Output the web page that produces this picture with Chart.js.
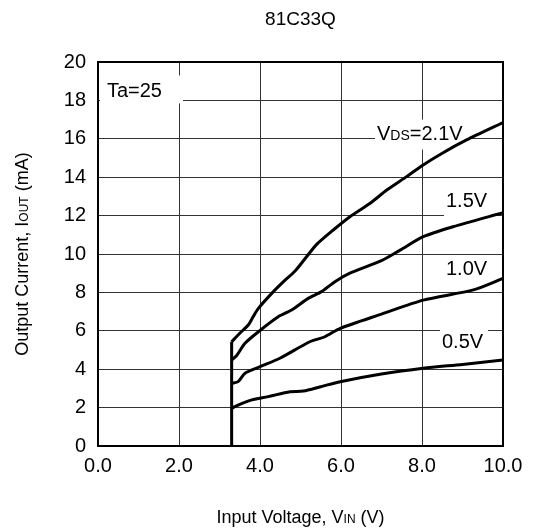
<!DOCTYPE html>
<html>
<head>
<meta charset="utf-8">
<script src="https://cdn.jsdelivr.net/npm/chart.js@4/dist/chart.umd.min.js"></script>
<style>
    html, body { margin: 0; padding: 0; background: #fff; }
    canvas { display: block; }
</style>
</head>
<body>
<canvas id="grafico" width="534" height="532"></canvas>
<script>
// curvas (Vin en V, Iout en mA)
const vin21 = [3.3, 3.5, 3.71, 3.83, 3.96, 4.29, 4.58, 4.86, 5.11, 5.4, 5.81, 6.22, 6.72, 7.13, 7.62, 8.0, 8.5, 9.1, 10.0];
const iout21 = [5.43, 5.87, 6.3, 6.73, 7.17, 7.95, 8.56, 9.1, 9.75, 10.5, 11.25, 11.94, 12.64, 13.33, 14.03, 14.6, 15.25, 15.94, 16.85];

const vin15 = [3.3, 3.42, 3.63, 3.96, 4.45, 4.78, 5.19, 5.52, 5.85, 6.22, 7.0, 7.46, 8.03, 8.77, 10.0];
const iout15 = [4.48, 4.7, 5.35, 5.95, 6.73, 7.08, 7.69, 8.04, 8.56, 9.0, 9.65, 10.2, 10.9, 11.42, 12.15];

const vin10 = [3.3, 3.46, 3.63, 4.0, 4.49, 5.23, 5.6, 5.98, 7.0, 8.03, 9.27, 10.0];
const iout10 = [3.26, 3.35, 3.79, 4.13, 4.57, 5.43, 5.69, 6.13, 6.87, 7.6, 8.13, 8.73];

const vin05 = [3.3, 3.5, 3.8, 4.2, 4.74, 5.07, 5.5, 5.98, 7.0, 8.03, 9.0, 10.0];
const iout05 = [1.96, 2.17, 2.4, 2.57, 2.83, 2.86, 3.09, 3.35, 3.75, 4.05, 4.25, 4.48];

// subida vertical en Vin = 3.3 V
const vinSalto = [3.3, 3.3];
const ioutSalto = [0, 5.43];

const etiquetasX = ['0.0', '2.0', '4.0', '6.0', '8.0', '10.0'];
const titulo = '81C33Q';

const fuente = '"Liberation Sans", Arial, sans-serif';

function puntos(xs, ys) {
    return xs.map((x, i) => ({ x: x, y: ys[i] }));
}

function serie(xs, ys, tension) {
    return {
        data: puntos(xs, ys),
        borderColor: '#000',
        borderWidth: 3,
        pointRadius: 0,
        tension: tension,
        fill: false
    };
}

// texto con partes de distinto tamaño (subindices tipo VIN, IOUT, VDS)
function textoMixto(ctx, partes, x, y, alinear) {
    let total = 0;
    partes.forEach(p => {
        ctx.font = p[1] + 'px ' + fuente;
        total += ctx.measureText(p[0]).width;
    });
    let inicio = x;
    if (alinear === 'center') inicio = x - total / 2;
    if (alinear === 'right') inicio = x - total;
    ctx.textAlign = 'left';
    ctx.textBaseline = 'alphabetic';
    ctx.fillStyle = '#000';
    partes.forEach(p => {
        ctx.font = p[1] + 'px ' + fuente;
        ctx.fillText(p[0], inicio, y);
        inicio += ctx.measureText(p[0]).width;
    });
    return total;
}

function cajaBlanca(ctx, x, y, w, h) {
    ctx.fillStyle = '#fff';
    ctx.fillRect(x, y, w, h);
}

const textos = {
    id: 'textos',
    beforeDatasetsDraw(chart) {
        const ctx = chart.ctx;
        const xs = chart.scales.x;
        const ys = chart.scales.y;
        ctx.save();
        // Ta=25
        cajaBlanca(ctx, xs.getPixelForValue(0) + 2, ys.getPixelForValue(19.3), 83, 28);
        textoMixto(ctx, [['Ta=25', 20]], xs.getPixelForValue(0.22), ys.getPixelForValue(18.0) - 3, 'left');
        // VDS=2.1V
        cajaBlanca(ctx, 375, ys.getPixelForValue(17.0), 93, 30);
        textoMixto(ctx, [['V', 20], ['DS', 14], ['=2.1V', 20]], 377, ys.getPixelForValue(16.0) + 1, 'left');
        // 1.5V
        cajaBlanca(ctx, 444, ys.getPixelForValue(13.2), 46, 26);
        textoMixto(ctx, [['1.5V', 20]], 446, ys.getPixelForValue(12.5) + 1, 'left');
        // 1.0V
        cajaBlanca(ctx, 444, ys.getPixelForValue(9.8), 46, 26);
        textoMixto(ctx, [['1.0V', 20]], 446, ys.getPixelForValue(8.95) + 1, 'left');
        // 0.5V
        cajaBlanca(ctx, 440, ys.getPixelForValue(6.2), 48, 26);
        textoMixto(ctx, [['0.5V', 20]], 442, ys.getPixelForValue(5.1), 'left');
        ctx.restore();
    },
    afterDraw(chart) {
        const ctx = chart.ctx;
        const a = chart.chartArea;
        ctx.save();
        // marco del area
        ctx.strokeStyle = '#000';
        ctx.lineWidth = 2;
        ctx.strokeRect(a.left, a.top, a.right - a.left, a.bottom - a.top);
        // titulo
        const centro = (a.left + a.right) / 2;
        textoMixto(ctx, [[titulo, 19]], centro, 25, 'center');
        // titulo eje x
        textoMixto(ctx, [['Input Voltage, V', 18], ['IN', 12], [' (V)', 18]], centro, 523, 'center');
        // titulo eje y
        ctx.translate(28, (a.top + a.bottom) / 2);
        ctx.rotate(-Math.PI / 2);
        textoMixto(ctx, [['Output Current, I', 18], ['OUT', 12], [' (mA)', 18]], 0, 0, 'center');
        ctx.restore();
    }
};

new Chart(document.getElementById('grafico').getContext('2d'), {
    type: 'line',
    data: {
        datasets: [
            serie(vin21, iout21, 0.25),
            serie(vin15, iout15, 0.25),
            serie(vin10, iout10, 0.25),
            serie(vin05, iout05, 0.25),
            serie(vinSalto, ioutSalto, 0)
        ]
    },
    options: {
        responsive: false,
        animation: false,
        layout: { padding: { top: 62, right: 31, left: 0, bottom: 0 } },
        plugins: {
            legend: { display: false },
            tooltip: { enabled: false },
            title: { display: false }
        },
        scales: {
            x: {
                type: 'linear',
                min: 0,
                max: 10,
                ticks: {
                    stepSize: 2,
                    color: '#000',
                    padding: 8,
                    maxRotation: 0,
                    font: { family: fuente, size: 20 },
                    callback: (v) => etiquetasX[Math.round(v / 2)]
                },
                grid: { color: '#333', lineWidth: 1, drawTicks: false },
                border: { display: false },
                afterFit: (s) => { s.height = 86; }
            },
            y: {
                min: 0,
                max: 20,
                ticks: {
                    stepSize: 2,
                    color: '#000',
                    padding: 12,
                    font: { family: fuente, size: 20 }
                },
                grid: { color: '#333', lineWidth: 1, drawTicks: false },
                border: { display: false },
                afterFit: (s) => { s.width = 98; }
            }
        }
    },
    plugins: [textos]
});
</script>
</body>
</html>
